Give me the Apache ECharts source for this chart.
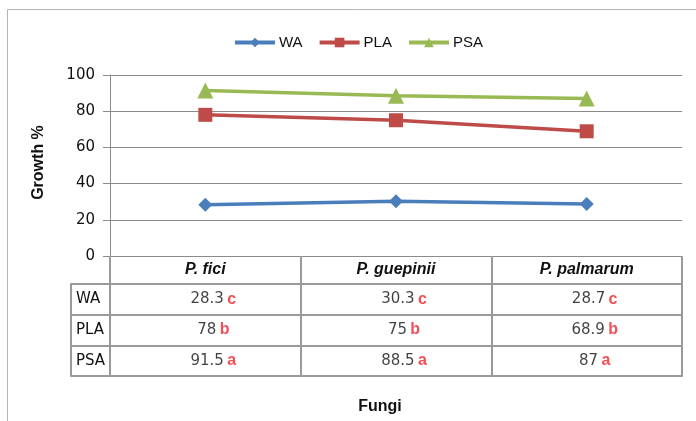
<!DOCTYPE html>
<html>
<head>
<meta charset="utf-8">
<script src="https://cdn.jsdelivr.net/npm/echarts@6/dist/echarts.min.js"></script>
<style>html,body{margin:0;padding:0;background:#fff}#c{width:696px;height:421px}</style>
</head>
<body>
<div id="c"></div>
<script>
const categories = ['P. fici', 'P. guepinii', 'P. palmarum'];
const rows = ['WA', 'PLA', 'PSA'];
const WA = [28.3, 30.3, 28.7];
const PLA = [78, 75, 68.9];
const PSA = [91.5, 88.5, 87];
const WA_sig = ['c', 'c', 'c'];
const PLA_sig = ['b', 'b', 'b'];
const PSA_sig = ['a', 'a', 'a'];
const yTicks = { min: 0, max: 100, interval: 20 };

const seriesValues = { WA: WA, PLA: PLA, PSA: PSA };
const seriesSig = { WA: WA_sig, PLA: PLA_sig, PSA: PSA_sig };
const colors = { WA: '#4A7EBB', PLA: '#BE4B48', PSA: '#98B954' };
const symbols = { WA: ['diamond', 14], PLA: ['rect', 14], PSA: ['triangle', 16] };

const tableData = [];
rows.forEach(function (r) {
  categories.forEach(function (c, i) {
    tableData.push([c, r, seriesValues[r][i], seriesSig[r][i]]);
  });
});

const gridLine = '#8a8a8a';
const tableLine = '#9a9a9a';
const chart = echarts.init(document.getElementById('c'));
chart.setOption({
  animation: false,
  backgroundColor: '#fff',
  graphic: [{
    type: 'rect', silent: true,
    shape: { x: 7.5, y: 9.5, width: 1000, height: 1000 },
    style: { fill: 'none', stroke: '#b4b4b4', lineWidth: 1 }
  }],
  legend: {
    top: 30, left: 228,
    itemWidth: 40, itemHeight: 12, itemGap: 15,
    lineStyle: { width: 4 },
    textStyle: { fontFamily: 'Liberation Sans', fontSize: 15, color: '#111', padding: [0, 0, 0, -1] },
    data: rows
  },
  grid: [
    { left: 110, right: 14, top: 75, bottom: 165 },
    { left: 110, right: 14, top: 284, bottom: 45 }
  ],
  xAxis: [{
    gridIndex: 0, type: 'category', data: categories, boundaryGap: true,
    name: 'Fungi', nameLocation: 'middle', nameGap: 143,
    nameTextStyle: { fontFamily: 'Liberation Sans', fontWeight: 'bold', fontSize: 16, color: '#111', padding: [0, 32, 0, 0] },
    axisLine: { show: true, lineStyle: { color: gridLine, width: 1 } },
    axisTick: { show: true, interval: 0, length: 28, lineStyle: { color: tableLine, width: 2 } },
    axisLabel: { interval: 0, margin: 6, fontFamily: 'Liberation Sans', fontStyle: 'italic', fontWeight: 'bold', fontSize: 16, color: '#111' },
    splitLine: { show: false }
  }, {
    gridIndex: 1, type: 'category', data: categories, boundaryGap: true,
    axisLine: { show: true, lineStyle: { color: tableLine, width: 2 } },
    axisTick: { show: false },
    axisLabel: { show: false },
    splitLine: { show: true, interval: 0, lineStyle: { color: tableLine, width: 2 } }
  }],
  yAxis: [{
    gridIndex: 0, type: 'value', min: yTicks.min, max: yTicks.max, interval: yTicks.interval,
    name: 'Growth %', nameLocation: 'middle', nameGap: 63, nameRotate: 90,
    nameTextStyle: { fontFamily: 'Liberation Sans', fontWeight: 'bold', fontSize: 16, color: '#111', padding: [0, 0, 0, 6] },
    axisLine: { show: true, lineStyle: { color: gridLine, width: 1 } },
    axisTick: { show: true, length: 7, lineStyle: { color: gridLine } },
    axisLabel: { margin: 15, fontFamily: 'DejaVu Sans', fontSize: 15, color: '#111' },
    splitLine: { show: true, lineStyle: { color: gridLine, width: 1 } }
  }, {
    gridIndex: 1, type: 'category', data: rows, inverse: true, boundaryGap: true,
    axisLine: { show: true, lineStyle: { color: tableLine, width: 2 } },
    axisTick: { show: true, interval: 0, length: 39, lineStyle: { color: tableLine, width: 2 } },
    axisLabel: { align: 'left', margin: 34, fontFamily: 'DejaVu Sans', fontSize: 15, color: '#111' },
    splitLine: { show: true, interval: 0, lineStyle: { color: tableLine, width: 2 } }
  }, {
    gridIndex: 1, type: 'category', data: rows, inverse: true, position: 'left', offset: 39,
    axisLine: { show: true, lineStyle: { color: tableLine, width: 2 } },
    axisTick: { show: false }, axisLabel: { show: false }, splitLine: { show: false }
  }],
  series: rows.map(function (r) {
    return {
      name: r, type: 'line', xAxisIndex: 0, yAxisIndex: 0,
      data: seriesValues[r],
      symbol: symbols[r][0], symbolSize: symbols[r][1], showSymbol: true,
      lineStyle: { color: colors[r], width: 3.5 },
      itemStyle: { color: colors[r] }
    };
  }).concat([{
    type: 'scatter', xAxisIndex: 1, yAxisIndex: 1, silent: true,
    symbolSize: 0, data: tableData,
    label: {
      show: true, position: 'inside', offset: [8, 0],
      formatter: function (p) { return '{v|' + p.data[2] + '} {s|' + p.data[3] + '}'; },
      rich: {
        v: { fontFamily: 'DejaVu Sans', fontSize: 15, color: '#111' },
        s: { fontFamily: 'Liberation Sans', fontWeight: 'bold', fontSize: 16, color: '#f0202a' }
      }
    }
  }])
});
</script>
</body>
</html>
